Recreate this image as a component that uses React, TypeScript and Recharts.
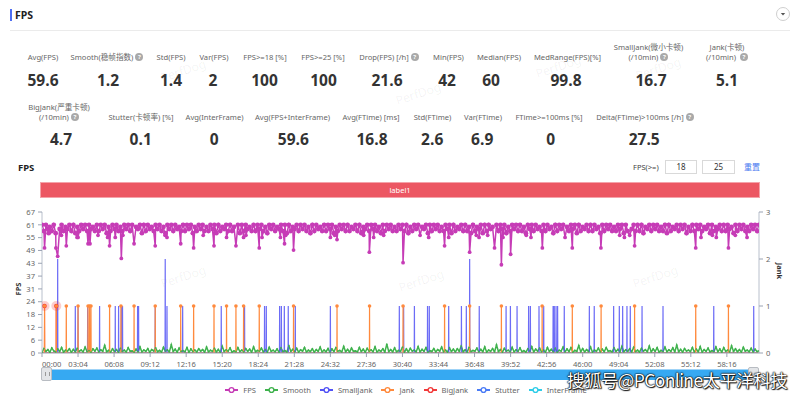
import React from 'react';
import { ComposedChart, Line, XAxis, YAxis } from 'recharts';

// ---------------- data ----------------
const TOTAL_SECONDS = 3660;
const fpsBandStep = 10;

// FPS band, one reading per 10 s
const fpsBand = [
  61,58,61,59,60,58,61,57,61,59,61,58,60,59,61,58,61,57,60,58,
  61,59,61,58,61,59,60,58,61,58,61,59,61,57,60,58,61,59,61,58,
  60,58,61,59,61,58,61,58,60,59,61,57,61,58,61,59,60,58,61,59,
  61,58,60,57,61,59,61,58,61,59,60,58,61,58,61,59,61,57,60,58,
  61,59,61,58,60,58,61,59,61,57,61,58,60,59,61,58,61,58,60,59,
  61,57,61,58,61,59,60,58,61,58,61,59,61,58,60,57,61,59,61,58,
  60,59,61,58,61,57,61,58,60,59,61,58,61,59,61,58,60,57,61,58,
  61,59,60,58,61,58,61,59,61,57,60,58,61,59,61,58,61,58,60,59,
  61,58,61,57,60,59,61,58,61,59,61,58,60,57,61,58,61,59,61,58,
  60,58,61,59,61,58,61,57,60,58,61,59,61,58,60,59,61,57,61,58,
  61,59,61,58,60,58,61,59,61,57,61,58,60,59,61,58,61,58,60,57,
  61,58,60,59,61,57,61,58,61,59,60,58,61,58,61,59,61,57,60,58,
  61,59,61,58,61,58,60,57,61,59,61,58,61,59,60,58,61,58,61,59,
  60,57,61,58,61,59,61,58,60,58,61,59,61,57,61,58,60,59,61,58,
  61,58,61,59,60,57,61,58,61,59,61,58,60,58,61,59,61,57,61,58,
  60,59,61,58,61,58,61,57,60,59,61,58,61,59,61,58,60,58,61,57,
  61,58,60,59,61,58,61,59,61,57,60,58,61,58,61,59,61,58,60,59,
  61,57,61,58,60,59,61,58,61,58,61,59,60,57,61,58,61,59,61,58,
  60,58,61,59,61,58,61,
];

// FPS drops: [second, fps]
const fpsDips: [number, number][] = [
  [13,50],[34,57],[71,50],[80,46],[99,56],[124,51],[179,55],[184,55],[235,52],[245,52],
  [286,56],[335,55],[345,51],[374,55],[405,45],[413,56],[470,52],[578,51],[628,56],[638,55],
  [708,52],[774,50],[823,56],[878,51],[942,55],[990,51],[1029,55],[1041,56],[1109,50],[1123,55],
  [1217,55],[1238,52],[1244,56],[1284,49],[1472,55],[1494,56],[1506,54],[1642,56],[1671,48],[1693,55],
  [1744,56],[1843,43],[1930,56],[1974,55],[2055,51],[2076,55],[2183,48],[2217,56],[2231,55],[2275,56],
  [2310,50],[2345,42],[2353,55],[2392,47],[2472,56],[2496,55],[2554,50],[2670,55],[2707,50],[2853,50],
  [2949,56],[2973,55],[3000,56],[3025,51],[3337,50],[3364,55],[3422,56],[3442,55],[3504,50],[3539,56],
  [3599,55],
];

// Smooth, one reading per 10 s
const smoothBand = [
  0.4,2.1,0.8,1.6,0.3,2.4,1.0,0.5,1.9,0.7,2.6,0.4,1.3,0.9,2.0,0.3,1.7,0.6,2.2,0.8,
  1.4,0.5,2.8,0.7,1.1,0.4,1.9,0.9,2.3,0.5,1.5,0.8,3.6,0.6,1.2,0.4,2.0,0.7,1.6,0.3,
  2.2,0.8,1.3,0.5,2.5,0.9,1.0,0.4,1.8,0.6,2.9,0.5,1.4,0.8,2.1,0.3,1.6,1.0,2.4,0.6,
  1.2,0.4,2.7,0.9,1.5,0.5,3.9,0.7,1.8,0.4,2.3,0.8,1.1,0.6,2.6,0.3,1.9,0.7,1.4,0.5,
  2.0,0.9,1.6,0.4,2.8,0.6,1.3,0.8,2.2,0.5,1.7,0.3,3.2,0.7,1.5,0.9,2.4,0.4,1.0,0.6,
  2.5,0.7,1.4,0.5,2.1,0.8,1.8,0.4,2.9,0.6,1.2,0.9,2.3,0.5,1.6,0.3,2.7,0.8,1.3,0.6,
  1.9,0.4,2.4,0.7,1.1,0.5,3.4,0.8,1.7,0.6,2.2,0.4,1.5,0.9,2.6,0.5,1.3,0.7,2.0,0.4,
  1.6,0.8,2.8,0.5,1.4,0.6,2.1,0.3,1.9,0.7,2.5,0.9,1.2,0.5,3.1,0.6,1.7,0.4,2.3,0.8,
  1.0,0.5,2.6,0.7,1.8,0.4,2.2,0.9,1.5,0.6,2.9,0.5,1.3,0.8,2.0,0.4,4.2,0.7,1.6,0.5,
  2.4,0.6,1.2,0.8,2.7,0.4,1.9,0.5,2.2,0.9,1.4,0.6,3.0,0.5,1.7,0.8,2.5,0.4,1.1,0.7,
  2.1,0.5,1.6,0.9,2.8,0.6,1.3,0.4,2.4,0.7,1.8,0.5,2.0,0.8,3.3,0.6,1.5,0.4,2.6,0.7,
  1.2,0.9,2.3,0.5,1.7,0.6,2.9,0.4,1.4,0.8,2.1,0.5,3.8,0.7,1.6,0.4,2.2,0.9,1.3,0.6,
  2.7,0.5,1.5,0.8,2.4,0.6,1.1,0.4,2.0,0.7,3.0,0.5,1.8,0.9,2.3,0.6,1.4,0.4,2.6,0.8,
  1.7,0.6,2.2,0.4,1.3,0.9,2.8,0.5,1.9,0.7,2.5,0.4,1.2,0.8,3.5,0.6,2.1,0.5,1.6,0.7,
  2.9,0.4,1.4,0.8,2.3,0.5,1.8,0.6,2.6,0.9,1.1,0.5,2.4,0.7,1.7,0.4,3.1,0.6,1.5,0.8,
  2.0,0.5,2.7,0.7,1.3,0.4,2.2,0.9,1.6,0.6,3.3,0.5,1.9,0.8,2.5,0.4,1.2,0.7,2.8,0.6,
  1.5,0.8,2.4,0.5,3.7,0.6,1.7,0.4,2.1,0.9,1.4,0.7,2.6,0.5,1.8,0.6,3.0,0.4,1.6,0.8,
  2.3,0.5,1.1,0.7,2.9,0.6,1.9,0.4,2.5,0.8,1.3,0.5,3.4,0.7,2.0,0.6,1.6,0.4,2.7,0.9,
  1.4,0.6,2.2,0.5,1.8,0.7,1.0,
];

// SmallJank events: [second, count]
const smallJankEvents: [number, number][] = [
  [80,2],[170,1],[184,1],[233,1],[243,1],[294,1],[374,1],[391,1],[405,1],[411,1],
  [488,1],[493,1],[578,1],[629,2],[638,1],[718,1],[915,1],[1034,1],[1136,1],[1145,1],
  [1213,1],[1222,1],[1237,1],[1257,1],[1293,1],[1472,1],[1824,1],[1846,1],[1901,1],[1968,1],
  [1977,1],[2076,1],[2141,1],[2166,1],[2183,2],[2232,1],[2369,1],[2391,1],[2425,1],[2484,1],
  [2493,1],[2537,1],[2561,1],[2609,1],[2615,1],[2624,1],[2632,1],[2666,1],[2794,1],[2819,1],
  [2918,1],[2947,1],[2964,1],[2986,1],[3003,1],[3063,1],[3170,1],[3429,1],[3633,1],
];

// Jank events (second)
const jankEvents = [
  13,73,124,184,235,243,250,345,403,470,578,708,774,878,942,990,1029,1109,1284,1506,
  1672,1843,2055,2183,2345,2553,2707,2854,3025,3337,3504,
];
const bigJankEvents = [13, 73];

const xTicks = [0,184,368,552,736,920,1104,1288,1472,1656,1840,2024,2208,2392,2576,2760,2944,3128,3312,3496];
const fpsTicks = [0,6.1,12.2,18.3,24.4,30.5,36.6,42.7,48.8,54.9,61,67.1];
const jankTicks = [0,1,2,3];

const statsRow1Labels = [
  ['Avg(FPS)'], ['Smooth(稳帧指数)?'], ['Std(FPS)'], ['Var(FPS)'], ['FPS>=18 [%]'], ['FPS>=25 [%]'],
  ['Drop(FPS) [/h]?'], ['Min(FPS)'], ['Median(FPS)'], ['MedRange(FPS)[%]'], ['SmallJank(微小卡顿)', '(/10min)?'], ['Jank(卡顿)', '(/10min) ?'],
];
const statsRow1Values = ['59.6','1.2','1.4','2','100','100','21.6','42','60','99.8','16.7','5.1'];
const statsRow2Labels = [
  ['BigJank(严重卡顿)', '(/10min)?'], ['Stutter(卡顿率) [%]'], ['Avg(InterFrame)'], ['Avg(FPS+InterFrame)'], ['Avg(FTime) [ms]'],
  ['Std(FTime)'], ['Var(FTime)'], ['FTime>=100ms [%]'], ['Delta(FTime)>100ms [/h]?'],
];
const statsRow2Values = ['4.7','0.1','0','59.6','16.8','2.6','6.9','0','27.5'];

const legendNames = ['FPS','Smooth','SmallJank','Jank','BigJank','Stutter','InterFrame'];

// ---------------- layout / style ----------------
const row1LabelCx = [43,107,171,214,265,323,389,448.5,499,567.5,648.5,727];
const row1ValueCx = [43,108,171,213,264.5,323.5,387,447,491,566,651,727];
const row2LabelCx = [59,141,214.5,292.5,371,432.5,483,549,645];
const row2ValueCx = [61,140.7,214.2,293.3,372,432.2,482.2,550.8,644.2];

const COLORS: Record<string, string> = {
  FPS: '#c63cb6',
  Smooth: '#3fb24d',
  SmallJank: '#5252f5',
  Jank: '#ff8a3d',
  BigJank: '#f23a3a',
  Stutter: '#4b7cf6',
  InterFrame: '#2fcde8',
};

const FONT = '"Noto Sans", "Noto Sans CJK SC", sans-serif';

// ---------------- derived tables ----------------
const dipTimes = new Set(fpsDips.map((d) => d[0]));
const fpsData = fpsBand
  .map((v, i) => ({ t: i * fpsBandStep, v }))
  .filter((p) => !dipTimes.has(p.t))
  .concat(fpsDips.map(([t, v]) => ({ t, v })))
  .sort((a, b) => a.t - b.t);

const smoothData = smoothBand.map((v, i) => ({ t: i * fpsBandStep, v }));

function spikes(events: [number, number][]) {
  const pts: { t: number; v: number }[] = [{ t: 0, v: 0 }];
  events.forEach(([t, v]) => {
    pts.push({ t: t - 0.8, v: 0 }, { t, v }, { t: t + 0.8, v: 0 });
  });
  pts.push({ t: TOTAL_SECONDS, v: 0 });
  return pts;
}
const smallJankData = spikes(smallJankEvents);
const jankData = spikes(jankEvents.map((t) => [t, 1] as [number, number]));
const bigJankData = spikes(bigJankEvents.map((t) => [t, 1] as [number, number]));
const flatData = [{ t: 0, v: 0 }, { t: TOTAL_SECONDS, v: 0 }];

const fmtTime = (s: number) => {
  const m = Math.floor(s / 60);
  const sec = Math.round(s % 60);
  return `${String(m).padStart(2, '0')}:${String(sec).padStart(2, '0')}`;
};

// ---------------- components ----------------
const Help = () => (
  <span
    style={{
      display: 'inline-block', width: 8, height: 8, borderRadius: 4, background: '#a9a9a9',
      color: '#fff', fontSize: 6, lineHeight: '8px', textAlign: 'center', marginLeft: 2,
      verticalAlign: 'middle', fontWeight: 700,
    }}
  >?</span>
);

function LabelText({ text }: { text: string }) {
  const q = text.endsWith('?');
  const t = q ? text.slice(0, -1).replace(/ $/, '\u00a0') : text;
  return (
    <div style={{ whiteSpace: 'nowrap' }}>
      {t}
      {q ? <Help /> : null}
    </div>
  );
}

function StatRow({ labels, values, labelCx, valueCx, labelBottom, valueTop }: {
  labels: string[][]; values: string[]; labelCx: number[]; valueCx: number[]; labelBottom: number; valueTop: number;
}) {
  return (
    <>
      {labels.map((lines, i) => (
        <div
          key={'l' + i}
          style={{
            position: 'absolute', left: labelCx[i] - 70, width: 140, top: labelBottom - 30, height: 30,
            display: 'flex', flexDirection: 'column', justifyContent: 'flex-end', alignItems: 'center',
            fontSize: 7.6, lineHeight: '9.5px', color: '#666', fontFamily: FONT, textAlign: 'center',
          }}
        >
          {lines.map((ln, j) => <LabelText key={j} text={ln} />)}
        </div>
      ))}
      {values.map((v, i) => (
        <div
          key={'v' + i}
          style={{
            position: 'absolute', left: valueCx[i] - 40, width: 80, top: valueTop, height: 20,
            textAlign: 'center', fontSize: 15.5, lineHeight: '20px', fontWeight: 700, color: '#333',
            fontFamily: '"Open Sans", "Noto Sans", sans-serif',
          }}
        >{v}</div>
      ))}
    </>
  );
}

const fpsDot = (p: any) => {
  const v = p.payload?.v;
  const dip = v !== undefined && v <= 56;
  return <circle key={'fd' + p.index} cx={p.cx} cy={p.cy} r={dip ? 1.9 : 2.4} fill={COLORS.FPS} stroke="none" />;
};
const smoothDot = (p: any) => (
  <circle key={'sd' + p.index} cx={p.cx} cy={p.cy} r={0.9} fill={COLORS.Smooth} stroke="none" />
);
const jankDot = (p: any) => {
  if (p.payload?.v === 1) {
    return <circle key={'jd' + p.index} cx={p.cx} cy={p.cy} r={1.8} fill={COLORS.Jank} />;
  }
  return <g key={'jd' + p.index} />;
};
const bigJankDot = (p: any) => {
  if (p.payload?.v === 1) {
    return (
      <g key={'bd' + p.index}>
        <circle cx={p.cx} cy={p.cy} r={5} fill={COLORS.BigJank} fillOpacity={0.25} />
        <circle cx={p.cx} cy={p.cy} r={2.2} fill={COLORS.BigJank} />
      </g>
    );
  }
  return <g key={'bd' + p.index} />;
};

const XTick = (props: any) => {
  const { x, y, payload, index } = props;
  return (
    <text x={x} y={y + 8} textAnchor={index === 0 ? 'start' : 'middle'} fontSize={7.6} fill="#666" fontFamily={FONT}>
      {fmtTime(payload.value)}
    </text>
  );
};

const LegendIcon = ({ color }: { color: string }) => (
  <svg width={13} height={8} style={{ display: 'block' }}>
    <line x1={0} y1={4} x2={13} y2={4} stroke={color} strokeWidth={2} />
    <circle cx={6.5} cy={4} r={2.4} fill="#fff" stroke={color} strokeWidth={1.4} />
  </svg>
);

const watermarks = [
  [160, 62], [535, 58], [635, 60], [160, 268], [398, 272], [632, 268], [395, 85],
];

export default function App() {
  return (
    <div style={{ position: 'absolute', left: 0, top: 0, width: 800, height: 398, overflow: 'hidden', background: '#fff', fontFamily: FONT }}>
      {/* header */}
      <div style={{ position: 'absolute', left: 10, top: 9, width: 2, height: 12, background: '#4e6ef2' }} />
      <div style={{ position: 'absolute', left: 15, top: 7, fontSize: 10.5, fontWeight: 700, color: '#222', lineHeight: '16px' }}>FPS</div>
      <div style={{ position: 'absolute', left: 10, top: 30, width: 780, height: 1, background: '#ebebeb' }} />
      <div style={{ position: 'absolute', left: 776, top: 7, width: 14, height: 14, borderRadius: 8, border: '1px solid #cfcfcf', boxSizing: 'border-box' }}>
        <svg width={12} height={12} style={{ position: 'absolute', left: 0, top: 0 }}>
          <path d="M3.8 5 L8.2 5 L6 7.4 Z" fill="#555" />
        </svg>
      </div>

      {watermarks.map(([x, y], i) => (
        <div key={'wm' + i} style={{ position: 'absolute', left: x, top: y, fontSize: 12, color: 'rgba(0,0,0,0.06)', transform: 'rotate(-18deg)', fontFamily: FONT, whiteSpace: 'nowrap' }}>PerfDog</div>
      ))}

      {/* stats */}
      <StatRow labels={statsRow1Labels} values={statsRow1Values} labelCx={row1LabelCx} valueCx={row1ValueCx} labelBottom={62} valueTop={70} />
      <StatRow labels={statsRow2Labels} values={statsRow2Values} labelCx={row2LabelCx} valueCx={row2ValueCx} labelBottom={122} valueTop={129} />

      {/* chart header */}
      <div style={{ position: 'absolute', left: 18, top: 160, fontSize: 9.5, fontWeight: 700, color: '#222', lineHeight: '16px' }}>FPS</div>
      <div style={{ position: 'absolute', left: 633, top: 160, fontSize: 7.5, color: '#444', lineHeight: '14px' }}>FPS(&gt;=)</div>
      <div style={{ position: 'absolute', left: 665, top: 160, width: 32, height: 14, border: '1px solid #d9d9d9', boxSizing: 'border-box', fontSize: 8, color: '#333', textAlign: 'center', lineHeight: '12px' }}>18</div>
      <div style={{ position: 'absolute', left: 702, top: 160, width: 33, height: 14, border: '1px solid #d9d9d9', boxSizing: 'border-box', fontSize: 8, color: '#333', textAlign: 'center', lineHeight: '12px' }}>25</div>
      <div style={{ position: 'absolute', left: 744, top: 160, fontSize: 8, color: '#4a78f0', lineHeight: '14px' }}>重置</div>

      <div style={{ position: 'absolute', left: 40, top: 182, width: 720, height: 16, background: '#ec5763', border: '1px solid #f4a3aa', boxSizing: 'border-box', color: '#fff', fontSize: 7.5, textAlign: 'center', lineHeight: '14px' }}>label1</div>

      {/* chart */}
      <div style={{ position: 'absolute', left: 0, top: 150, width: 800, height: 248 }}>
        <ComposedChart width={800} height={248} margin={{ top: 62, right: 0, bottom: 25, left: 0 }}>
          <XAxis
            type="number" dataKey="t" domain={[0, TOTAL_SECONDS]} ticks={xTicks} interval={0}
            tickFormatter={fmtTime} allowDataOverflow height={20}
            tick={<XTick />}
            tickLine={{ stroke: '#9aa3b3' }} axisLine={{ stroke: '#9aa3b3' }} tickSize={4} tickMargin={2}
          />
          <YAxis
            yAxisId="fps" orientation="left" domain={[0, 67.1]} ticks={fpsTicks} interval={0} allowDataOverflow
            tickFormatter={(v: number) => String(Math.round(v))} width={42}
            tick={{ fontSize: 7.6, fill: '#666', fontFamily: FONT }}
            tickLine={{ stroke: '#9aa3b3' }} axisLine={{ stroke: '#b9c0cc' }} tickSize={4} tickMargin={3}
          />
          <YAxis
            yAxisId="jank" orientation="right" domain={[0, 3]} ticks={jankTicks} interval={0} allowDataOverflow width={41}
            tick={{ fontSize: 7.6, fill: '#666', fontFamily: FONT }}
            tickLine={{ stroke: '#9aa3b3' }} axisLine={{ stroke: '#b9c0cc' }} tickSize={4} tickMargin={3}
          />
          <Line yAxisId="fps" data={smoothData} dataKey="v" name="Smooth" stroke={COLORS.Smooth} strokeWidth={1.5} dot={smoothDot} activeDot={false} isAnimationActive={false} />
          <Line yAxisId="jank" data={flatData} dataKey="v" name="InterFrame" stroke={COLORS.InterFrame} strokeWidth={1} dot={false} activeDot={false} isAnimationActive={false} />
          <Line yAxisId="jank" data={flatData} dataKey="v" name="Stutter" stroke={COLORS.Stutter} strokeWidth={1} dot={false} activeDot={false} isAnimationActive={false} />
          <Line yAxisId="jank" data={bigJankData} dataKey="v" name="BigJank" stroke={COLORS.BigJank} strokeWidth={1} dot={bigJankDot} activeDot={false} isAnimationActive={false} />
          <Line yAxisId="jank" data={smallJankData} dataKey="v" name="SmallJank" stroke={COLORS.SmallJank} strokeWidth={1.2} strokeOpacity={0.85} dot={false} activeDot={false} isAnimationActive={false} />
          <Line yAxisId="jank" data={jankData} dataKey="v" name="Jank" stroke={COLORS.Jank} strokeWidth={1.2} dot={jankDot} activeDot={false} isAnimationActive={false} />
          <Line yAxisId="fps" data={fpsData} dataKey="v" name="FPS" stroke={COLORS.FPS} strokeWidth={1.5} dot={fpsDot} activeDot={false} isAnimationActive={false} />
        </ComposedChart>
      </div>

      {/* axis names */}
      <div style={{ position: 'absolute', left: 8, top: 284, width: 20, textAlign: 'center', fontSize: 7.5, fontWeight: 700, color: '#333', transform: 'rotate(-90deg)' }}>FPS</div>
      <div style={{ position: 'absolute', left: 768, top: 266, width: 24, textAlign: 'center', fontSize: 7.5, fontWeight: 700, color: '#333', transform: 'rotate(90deg)' }}>Jank</div>

      {/* data zoom slider */}
      <div style={{ position: 'absolute', left: 42, top: 369, width: 717, height: 11, background: '#36a9f2', borderTop: '1px solid #9fd3f7', boxSizing: 'border-box' }} />
      <div style={{ position: 'absolute', left: 41, top: 367, width: 11, height: 14, background: '#e3e5e8', border: '1px solid #b8bcc2', borderRadius: 2, boxSizing: 'border-box' }}>
        <div style={{ position: 'absolute', left: 3, top: 4, width: 3, height: 4, borderLeft: '1px solid #999', borderRight: '1px solid #999' }} />
      </div>
      <div style={{ position: 'absolute', left: 748, top: 367, width: 11, height: 14, background: '#e3e5e8', border: '1px solid #b8bcc2', borderRadius: 2, boxSizing: 'border-box' }} />

      {/* legend */}
      <div style={{ position: 'absolute', left: 6, top: 384, width: 800, display: 'flex', justifyContent: 'center', gap: 9, fontSize: 7.6, color: '#666', lineHeight: '12px' }}>
        {legendNames.map((n) => (
          <div key={n} style={{ display: 'flex', alignItems: 'center', gap: 5 }}>
            <LegendIcon color={COLORS[n]} />
            <span>{n}</span>
          </div>
        ))}
      </div>

      {/* source watermark */}
      <div style={{ position: 'absolute', left: 567, top: 369, fontSize: 17.5, color: '#fff', fontFamily: '"Noto Sans CJK SC", sans-serif', whiteSpace: 'nowrap', lineHeight: '22px', textShadow: '0 0 1px #000, 0 0 1px #000, 0 0 2px #000, 1px 1px 1px #222', letterSpacing: -0.6 }}>搜狐号@PConline太平洋科技</div>
    </div>
  );
}
